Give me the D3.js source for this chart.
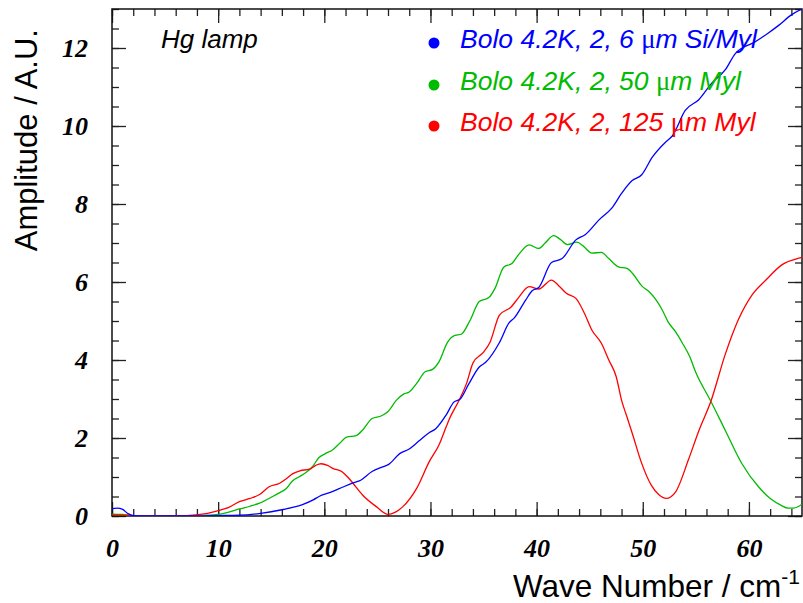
<!DOCTYPE html>
<html>
<head>
	<title>Hg lamp spectra</title>
	<script src="https://d3js.org/d3.v7.min.js" charset="utf-8"></script>
	<style>
		body { margin: 0; background: #fff; }
		.tick text { font-family: "Liberation Serif", serif; font-style: italic; font-weight: bold; font-size: 26px; fill: #000; }
		.tick line { stroke: #222; stroke-width: 1.3; }
		.domain { display: none; }
	</style>
</head>
<body>
	<svg width="803" height="603"></svg>
	<script>
		// plot frame (pixels)
		const padLeft = 112, padRight = 802, padTop = 9, padBottom = 516;

		// wave number (cm-1) / amplitude
		const blueWave = [0, 0.5, 1.0, 1.5, 2.0, 4, 8, 10, 12, 14, 16, 17, 18, 19, 19.5, 20.5, 21.4, 22.7, 23.3, 24.5, 25.5, 26.1, 27.1, 28.0, 28.9, 29.9, 30.5, 31.5, 32.2, 32.8, 33.6, 34.6, 35.2, 36.5, 37.4, 37.9, 39.0, 39.6, 40.2, 41.4, 42.4, 43.7, 44.6, 45.9, 47.1, 48.0, 49.0, 49.9, 50.9, 52.2, 52.8, 54.0, 55.3, 56.5, 57.8, 58.7, 60.6, 61.8, 62.8, 64.0, 65.0];
		const blueAmp  = [0.19, 0.2, 0.17, 0.06, 0.01, 0, 0, 0.01, 0.02, 0.07, 0.16, 0.22, 0.3, 0.42, 0.5, 0.6, 0.7, 0.85, 0.9, 1.14, 1.26, 1.33, 1.6, 1.72, 1.92, 2.14, 2.24, 2.6, 2.92, 3.0, 3.38, 3.82, 3.94, 4.45, 4.95, 5.08, 5.55, 5.78, 5.86, 6.5, 6.6, 7.08, 7.22, 7.6, 7.9, 8.27, 8.6, 8.75, 9.2, 9.6, 9.75, 10.4, 10.68, 11.1, 11.45, 11.85, 12.16, 12.38, 12.58, 12.85, 13.0];

		const greenWave = [0, 1, 2, 4, 7, 8, 9, 10.2, 11, 12, 13, 13.9, 15, 15.8, 16.4, 17, 17.6, 18.3, 18.9, 19.5, 20.1, 20.8, 21.4, 22.1, 23.0, 23.6, 24.5, 25.4, 26.0, 26.8, 27.5, 28.0, 28.7, 29.5, 30.2, 30.8, 31.6, 32.3, 32.9, 33.7, 34.6, 35.5, 36.1, 36.9, 37.7, 38.3, 39.3, 40.2, 40.8, 41.6, 42.2, 42.9, 43.8, 44.4, 45.2, 46.1, 46.8, 47.7, 48.5, 49.1, 49.9, 50.6, 51.2, 51.8, 52.4, 53.1, 53.7, 54.4, 55.0, 56.4, 57.8, 59.3, 60.9, 62.1, 63.0, 63.7, 64.2, 64.7, 65];
		const greenAmp  = [0.05, 0.04, 0.01, 0, 0, 0.01, 0.02, 0.05, 0.1, 0.18, 0.25, 0.33, 0.48, 0.6, 0.7, 0.9, 1.0, 1.12, 1.27, 1.5, 1.6, 1.7, 1.85, 2.02, 2.06, 2.2, 2.5, 2.57, 2.68, 2.97, 3.13, 3.18, 3.4, 3.7, 3.76, 3.95, 4.45, 4.63, 4.66, 5.0, 5.5, 5.6, 5.85, 6.38, 6.48, 6.7, 6.95, 6.86, 7.0, 7.19, 7.1, 6.96, 7.02, 6.92, 6.74, 6.76, 6.6, 6.39, 6.35, 6.2, 5.9, 5.75, 5.56, 5.3, 4.97, 4.72, 4.45, 4.1, 3.68, 2.95, 2.18, 1.36, 0.75, 0.43, 0.28, 0.2, 0.2, 0.25, 0.3];

		const redWave = [0, 2, 4, 7, 8.3, 9, 10.2, 11, 12, 13, 13.9, 14.8, 15.8, 16.4, 17, 17.7, 18.6, 19.2, 19.7, 20.3, 20.8, 21.7, 22.2, 22.7, 23.6, 24.9, 26, 26.7, 27.4, 28.7, 29.9, 30.8, 31.5, 31.8, 32.7, 33.4, 34.0, 35.0, 35.6, 36.5, 37.6, 38.3, 39.3, 40.2, 41.4, 42.1, 42.8, 43.7, 44.5, 45.2, 46.1, 46.8, 47.5, 48.0, 48.5, 49.0, 49.9, 50.8, 51.5, 52.2, 53.1, 54.3, 55.3, 56.4, 57.8, 59, 60.3, 61.6, 63.1, 64.7, 65];
		const redAmp  = [0.03, 0.01, 0, 0.01, 0.04, 0.07, 0.15, 0.22, 0.37, 0.45, 0.55, 0.75, 0.84, 0.95, 1.08, 1.16, 1.2, 1.3, 1.34, 1.3, 1.22, 1.13, 1.0, 0.84, 0.54, 0.24, 0.04, 0.1, 0.24, 0.71, 1.4, 1.82, 2.3, 2.5, 2.97, 3.4, 3.92, 4.2, 4.45, 5.15, 5.36, 5.6, 5.88, 5.82, 6.05, 5.9, 5.71, 5.58, 5.2, 4.77, 4.43, 4.0, 3.57, 2.97, 2.55, 2.13, 1.35, 0.79, 0.55, 0.45, 0.62, 1.44, 2.2, 2.93, 4.17, 5.03, 5.67, 6.05, 6.44, 6.61, 6.63];

		const seriesNames  = ["Bolo 4.2K, 2, 6 ", "Bolo 4.2K, 2, 50 ", "Bolo 4.2K, 2, 125 "];
		const seriesTails  = ["m Si/Myl", "m Myl", "m Myl"];
		const seriesColors = ["#0000ff", "#00bb00", "#ff0000"];

		const xTicks = [0, 10, 20, 30, 40, 50, 60];
		const yTicks = [0, 2, 4, 6, 8, 10, 12];

		var svg = d3.select('svg');

		const x = d3.scaleLinear().domain([0, 65]).range([padLeft, padRight]);
		const y = d3.scaleLinear().domain([0, 13]).range([padBottom, padTop]);

		svg.append("defs").append("clipPath").attr("id", "clip")
			.append("rect").attr("x", padLeft).attr("y", padTop)
			.attr("width", padRight - padLeft).attr("height", padBottom - padTop);

		// minor ticks
		const minorX = d3.range(0, 65.1, 2);
		const minorY = d3.range(0, 13.01, 0.5);
		svg.append('g').attr('transform', `translate(0,${padBottom})`)
			.call(d3.axisBottom(x).tickValues(minorX).tickSize(-7).tickFormat(""));
		svg.append('g').attr('transform', `translate(0,${padTop})`)
			.call(d3.axisTop(x).tickValues(minorX).tickSize(-7).tickFormat(""));
		svg.append('g').attr('transform', `translate(${padLeft},0)`)
			.call(d3.axisLeft(y).tickValues(minorY).tickSize(-7).tickFormat(""));
		svg.append('g').attr('transform', `translate(${padRight},0)`)
			.call(d3.axisRight(y).tickValues(minorY).tickSize(-7).tickFormat(""));

		// major ticks with labels
		svg.append('g').attr('transform', `translate(0,${padBottom})`)
			.call(d3.axisBottom(x).tickValues(xTicks).tickSize(-14).tickPadding(23).tickFormat(d3.format("d")));
		svg.append('g').attr('transform', `translate(0,${padTop})`)
			.call(d3.axisTop(x).tickValues(xTicks).tickSize(-14).tickFormat(""));
		svg.append('g').attr('transform', `translate(${padLeft},0)`)
			.call(d3.axisLeft(y).tickValues(yTicks).tickSize(-14).tickPadding(24).tickFormat(d3.format("d")));
		svg.append('g').attr('transform', `translate(${padRight},0)`)
			.call(d3.axisRight(y).tickValues(yTicks).tickSize(-14).tickFormat(""));

		// frame
		svg.append("rect").attr("x", padLeft).attr("y", padTop)
			.attr("width", padRight - padLeft).attr("height", padBottom - padTop)
			.attr("fill", "none").attr("stroke", "#111").attr("stroke-width", 1.5);

		// curves
		const line = d3.line()
			.x(d => x(d[0])).y(d => y(d[1]))
			.curve(d3.curveMonotoneX);

		const series = [
			d3.zip(blueWave, blueAmp),
			d3.zip(greenWave, greenAmp),
			d3.zip(redWave, redAmp)
		];

		const plot = svg.append("g").attr("clip-path", "url(#clip)");
		[1, 2, 0].forEach(i => {
			plot.append("path")
				.datum(series[i])
				.attr("fill", "none")
				.attr("stroke", seriesColors[i])
				.attr("stroke-width", 1.3)
				.attr("d", line);
		});

		// legend
		const legendY = [48, 90, 131];
		seriesNames.forEach((name, i) => {
			svg.append("circle")
				.attr("cx", 434).attr("cy", legendY[i] - 5).attr("r", 5.5)
				.attr("fill", seriesColors[i]);
			const t = svg.append("text")
				.attr("x", 460).attr("y", legendY[i])
				.attr("fill", seriesColors[i])
				.style("font-family", "'Liberation Sans', Arial, sans-serif")
				.style("font-style", "italic")
				.style("font-size", "26.5px");
			t.append("tspan").text(name);
			t.append("tspan").text("\u03bc")
				.style("font-family", "'Liberation Serif', serif")
				.style("font-style", "normal");
			t.append("tspan").text(seriesTails[i]);
		});

		svg.append("text")
			.attr("x", 161).attr("y", 48)
			.style("font-family", "'Liberation Sans', Arial, sans-serif")
			.style("font-style", "italic")
			.style("font-size", "26px")
			.text("Hg lamp");

		// axis titles
		svg.append("text")
			.attr("transform", "translate(37,29) rotate(-90)")
			.attr("text-anchor", "end")
			.style("font-family", "'Liberation Sans', Arial, sans-serif")
			.style("font-size", "31px")
			.text("Amplitude / A.U.");

		const xt = svg.append("text")
			.attr("x", 800).attr("y", 597)
			.attr("text-anchor", "end")
			.style("font-family", "'Liberation Sans', Arial, sans-serif")
			.style("font-size", "31.5px");
		xt.append("tspan").text("Wave Number / cm");
		xt.append("tspan").attr("dy", -13).style("font-size", "21px").text("-1");
	</script>
</body>
</html>
